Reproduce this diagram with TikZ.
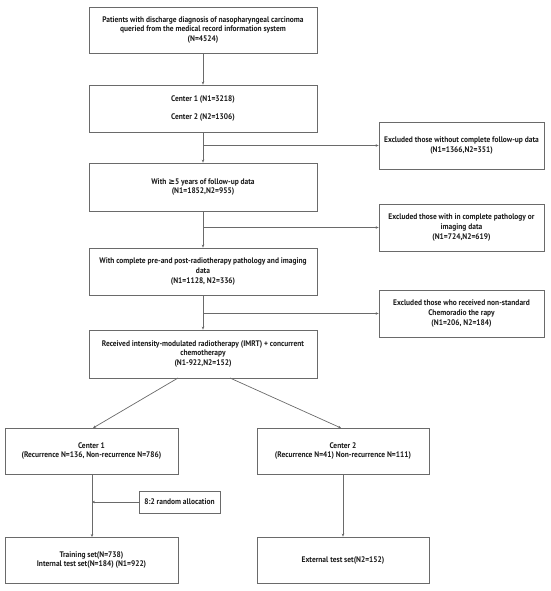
\documentclass[tikz,border=0pt]{standalone}
\usepackage{fontspec}
\setmainfont{PT Sans}[BoldFont={PT Sans Bold},FakeStretch=0.92]
\newfontfamily\symfont{DejaVu Sans}
\usetikzlibrary{arrows.meta}
\definecolor{lineg}{HTML}{6A6A6A}
\definecolor{txt}{HTML}{1A1A1A}
\begin{document}
\begin{tikzpicture}[x=1pt,y=-1pt,
  box/.style={draw=lineg,line width=0.8pt,rectangle,align=center,inner sep=1pt,
    font=\fontsize{8.1}{9.6}\selectfont\bfseries,text=txt},
  conn/.style={draw=lineg,line width=0.7pt},
  arr/.style={conn,-{Stealth[length=3pt,width=2.6pt]}}]
\useasboundingbox (0,0) rectangle (550,591);
\node[box,minimum width=228pt,minimum height=46pt] (b1) at (203,30)
  {Patients with discharge diagnosis of nasopharyngeal carcinoma\\queried from the medical record information system\\(N=4524)};
\node[box,minimum width=228pt,minimum height=47pt] (b2) at (203,108.5)
  {Center 1 (N1=3218)\\[7.5pt]Center 2 (N2=1306)};
\node[box,minimum width=228pt,minimum height=48pt] (b3) at (203,187)
  {With {\symfont\bfseries ≥}5 years of follow-up data\\(N1=1852,N2=955)};
\node[box,minimum width=228pt,minimum height=47pt] (b4) at (203,271.5)
  {With complete pre-and post-radiotherapy pathology and imaging\\data\\(N1=1128, N2=336)};
\node[box,minimum width=228pt,minimum height=48pt] (b5) at (203,354)
  {Received intensity-modulated radiotherapy (IMRT) + concurrent\\chemotherapy\\(N1-922,N2=152)};
\node[box,minimum width=165pt,minimum height=47pt] (e1) at (461.5,145.5)
  {Excluded those without complete follow-up data\\(N1=1366,N2=351)};
\node[box,minimum width=165pt,minimum height=47pt] (e2) at (461.5,227.5)
  {Excluded those with in complete pathology or\\imaging data\\(N1=724,N2=619)};
\node[box,minimum width=165pt,minimum height=47pt] (e3) at (461.5,313.5)
  {Excluded those who received non-standard\\Chemoradio the rapy\\(N1=206, N2=184)};
\node[box,minimum width=173pt,minimum height=46pt] (c1) at (91.5,451)
  {Center 1\\(Recurrence N=136, Non-recurrence N=786)};
\node[box,minimum width=172pt,minimum height=46pt] (c2) at (343,451)
  {Center 2\\(Recurrence N=41) Non-recurrence N=111)};
\node[box,minimum width=81pt,minimum height=22pt] (ra) at (179.5,502)
  {8:2 random allocation};
\node[box,minimum width=173pt,minimum height=46pt] (tr) at (91.5,560)
  {Training set(N=738)\\Internal test set(N=184) (N1=922)};
\node[box,minimum width=172pt,minimum height=46pt] (ex) at (343,560)
  {External test set(N2=152)};
\draw[arr] (b1) -- (b2);
\draw[arr] (b2) -- (b3);
\draw[arr] (b3) -- (b4);
\draw[arr] (b4) -- (b5);
\draw[arr] (b2.south |- e1.west) -- (e1.west);
\draw[arr] (b3.south |- e2.west) -- (e2.west);
\draw[arr] (b4.south |- e3.west) -- (e3.west);
\coordinate (s1) at (178,378);
\coordinate (s2) at (230,378);
\draw[arr] (s1) -- (93,428);
\draw[arr] (s2) -- (341,428);
\draw[arr] (92,474) -- (92,537);
\draw[arr] (ra.west) -- (92,502);
\draw[arr] (c2.south) -- (ex.north);
\end{tikzpicture}
\end{document}
